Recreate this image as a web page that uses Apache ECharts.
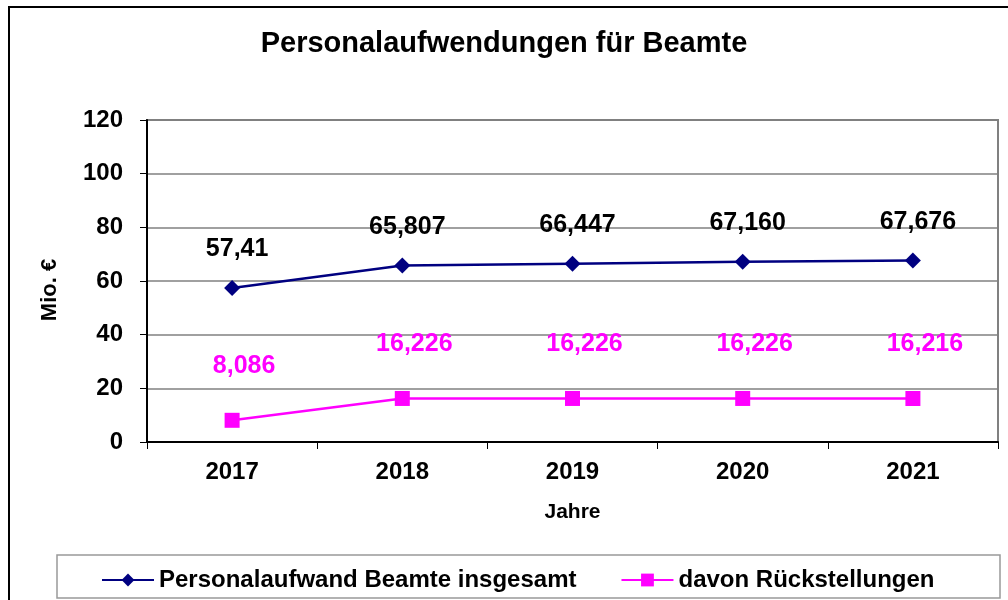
<!DOCTYPE html>
<html>
<head>
<meta charset="utf-8">
<script src="https://cdn.jsdelivr.net/npm/echarts@6/dist/echarts.min.js"></script>
<style>
  html, body { margin: 0; padding: 0; background: #fff; }
  #chart { width: 1008px; height: 600px; }
</style>
</head>
<body>
<div id="chart"></div>
<script>
// Daten (Mio. €)
var jahre = ['2017', '2018', '2019', '2020', '2021'];
var personalaufwand = [57.41, 65.807, 66.447, 67.16, 67.676];
var personalaufwandText = ['57,41', '65,807', '66,447', '67,160', '67,676'];
var rueckstellungen = [8.086, 16.226, 16.226, 16.226, 16.216];
var rueckstellungenText = ['8,086', '16,226', '16,226', '16,226', '16,216'];
var yTicks = [0, 20, 40, 60, 80, 100, 120];

var fontName = '"Liberation Sans", Arial, sans-serif';

var chart = echarts.init(document.getElementById('chart'));
var option = {
    backgroundColor: '#ffffff',
    animation: false,
    title: {
        text: 'Personalaufwendungen für Beamte',
        left: 'center',
        top: 24,
        textStyle: { fontFamily: fontName, fontSize: 29, fontWeight: 'bold', color: '#000' }
    },
    graphic: [
        // Rahmen um das Diagramm
        { type: 'rect', shape: { x: 9, y: 7, width: 1100, height: 700 },
          style: { fill: 'none', stroke: '#000', lineWidth: 2 }, silent: true },
        // Rahmen der Legende
        { type: 'rect', shape: { x: 57, y: 555, width: 943, height: 43 },
          style: { fill: 'none', stroke: '#999', lineWidth: 1.5 }, silent: true }
    ],
    legend: {
        left: 96,
        top: 563,
        itemWidth: 52,
        itemHeight: 16,
        itemGap: 44,
        textStyle: { fontFamily: fontName, fontSize: 24, fontWeight: 'bold', color: '#000' },
        data: ['Personalaufwand Beamte insgesamt', 'davon Rückstellungen']
    },
    grid: {
        left: 147, right: 10, top: 120, bottom: 158,
        show: true, borderColor: '#808080', borderWidth: 2,
        containLabel: false
    },
    xAxis: {
        type: 'category',
        data: jahre,
        boundaryGap: true,
        name: 'Jahre',
        nameLocation: 'middle',
        nameGap: 60,
        nameTextStyle: { fontFamily: fontName, fontSize: 21, fontWeight: 'bold', color: '#000' },
        axisLine: { lineStyle: { color: '#000', width: 2 } },
        axisTick: { show: true, length: 7, lineStyle: { color: '#000', width: 1 } },
        axisLabel: { margin: 18, fontFamily: fontName, fontSize: 24, fontWeight: 'bold', color: '#000' },
        splitLine: { show: false }
    },
    yAxis: {
        type: 'value',
        min: yTicks[0],
        max: yTicks[yTicks.length - 1],
        interval: 20,
        name: 'Mio. €',
        nameLocation: 'middle',
        nameGap: 86,
        nameRotate: 90,
        nameTextStyle: { fontFamily: fontName, fontSize: 22, fontWeight: 'bold', color: '#000', padding: [0, 18, 0, 0] },
        axisLine: { show: true, lineStyle: { color: '#000', width: 2 } },
        axisTick: { show: true, length: 7, lineStyle: { color: '#000', width: 1 } },
        axisLabel: { margin: 24, fontFamily: fontName, fontSize: 24, fontWeight: 'bold', color: '#000' },
        splitLine: { show: true, lineStyle: { color: '#808080', width: 1.5 } }
    },
    series: [
        {
            name: 'Personalaufwand Beamte insgesamt',
            type: 'line',
            data: personalaufwand,
            symbol: 'diamond',
            symbolSize: 16,
            itemStyle: { color: '#000080' },
            lineStyle: { color: '#000080', width: 2.5 },
            label: {
                show: true, position: 'top', distance: 18, offset: [5, 0],
                fontFamily: fontName, fontSize: 25, fontWeight: 'bold', color: '#000',
                formatter: function (p) { return personalaufwandText[p.dataIndex]; }
            }
        },
        {
            name: 'davon Rückstellungen',
            type: 'line',
            data: rueckstellungen,
            symbol: 'rect',
            symbolSize: 15,
            itemStyle: { color: '#ff00ff' },
            lineStyle: { color: '#ff00ff', width: 2.5 },
            label: {
                show: true, position: 'top', distance: 34, offset: [12, 0],
                fontFamily: fontName, fontSize: 25, fontWeight: 'bold', color: '#ff00ff',
                formatter: function (p) { return rueckstellungenText[p.dataIndex]; }
            }
        }
    ]
};
chart.setOption(option);
</script>
</body>
</html>
